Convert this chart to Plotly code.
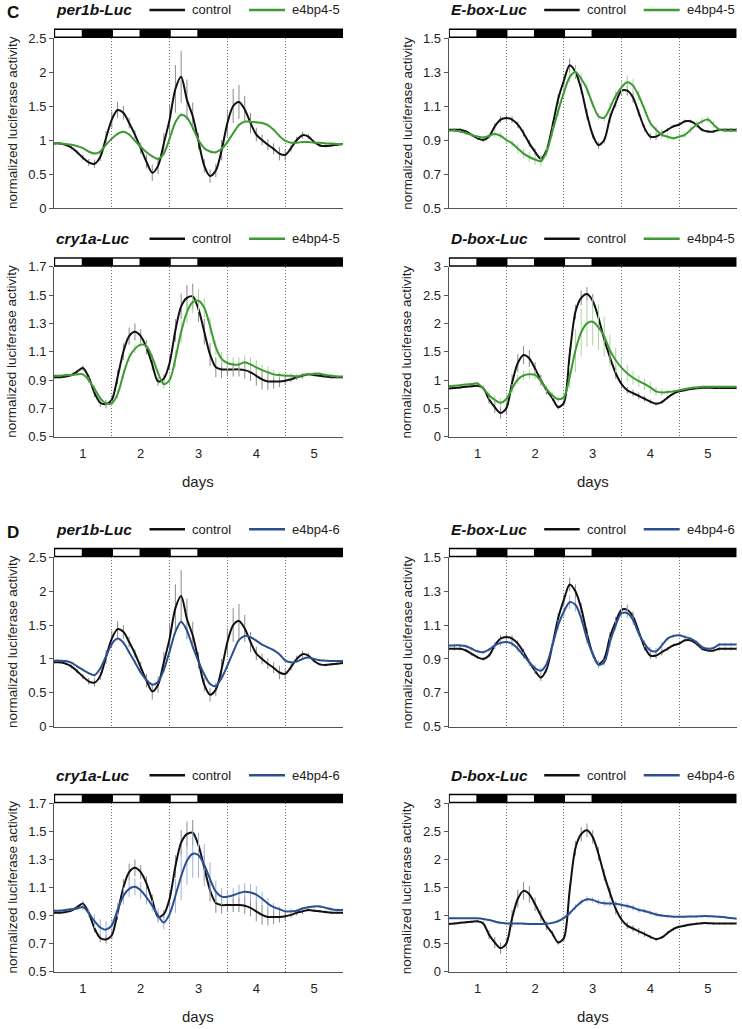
import plotly.graph_objects as go

# ---------------- data ----------------
DAYS = [0.5, 0.6, 0.7, 0.8, 0.9, 1.0, 1.1, 1.2, 1.3, 1.4,
        1.5, 1.6, 1.7, 1.8, 1.9, 2.0, 2.1, 2.2, 2.3, 2.4,
        2.5, 2.6, 2.7, 2.8, 2.9, 3.0, 3.1, 3.2, 3.3, 3.4,
        3.5, 3.6, 3.7, 3.8, 3.9, 4.0, 4.1, 4.2, 4.3, 4.4,
        4.5, 4.6, 4.7, 4.8, 4.9, 5.0, 5.1, 5.2, 5.3, 5.4,
        5.5]
DAY_TICKS = [1, 2, 3, 4, 5]
DAY_LABELS = ["1", "2", "3", "4", "5"]
DAY_BOUNDARIES = [1.5, 2.5, 3.5, 4.5, 5.5]
LIGHT_PHASES = [(0.5, 1.0), (1.5, 2.0), (2.5, 3.0)]
DAY_RANGE = [0.5, 5.5]

# per1b-Luc
PER1B_CONTROL = [0.95, 0.95, 0.93, 0.89, 0.82, 0.74, 0.67, 0.65, 0.75, 1.03,
                 1.30, 1.44, 1.40, 1.25, 1.08, 0.88, 0.68, 0.52, 0.62, 0.95,
                 1.30, 1.75, 1.93, 1.59, 1.35, 0.98, 0.62, 0.47, 0.55, 0.85,
                 1.25, 1.50, 1.56, 1.45, 1.25, 1.08, 1.00, 0.93, 0.87, 0.80,
                 0.78, 0.88, 1.00, 1.07, 1.05, 0.97, 0.92, 0.91, 0.92, 0.93,
                 0.94]
PER1B_CONTROL_ERR = [0.02, 0.02, 0.02, 0.03, 0.03, 0.04, 0.05, 0.06, 0.06, 0.10,
                     0.12, 0.12, 0.10, 0.08, 0.06, 0.08, 0.10, 0.12, 0.12, 0.15,
                     0.22, 0.35, 0.38, 0.30, 0.20, 0.12, 0.10, 0.10, 0.10, 0.15,
                     0.20, 0.25, 0.25, 0.20, 0.15, 0.10, 0.08, 0.08, 0.08, 0.10,
                     0.08, 0.05, 0.05, 0.05, 0.04, 0.02, 0.02, 0.02, 0.02, 0.02,
                     0.02]
PER1B_E4BP4_5 = [0.95, 0.95, 0.94, 0.93, 0.91, 0.88, 0.83, 0.80, 0.83, 0.93,
                 1.02, 1.09, 1.12, 1.08, 0.99, 0.90, 0.82, 0.76, 0.72, 0.80,
                 1.02, 1.26, 1.37, 1.33, 1.18, 1.00, 0.88, 0.83, 0.82, 0.87,
                 0.97, 1.10, 1.22, 1.27, 1.27, 1.26, 1.25, 1.22, 1.15, 1.06,
                 0.99, 0.96, 0.96, 0.97, 0.97, 0.96, 0.96, 0.95, 0.95, 0.94,
                 0.94]
PER1B_E4BP4_5_ERR = [0.01, 0.01, 0.01, 0.01, 0.02, 0.02, 0.02, 0.02, 0.02, 0.02,
                     0.02, 0.02, 0.02, 0.02, 0.02, 0.02, 0.02, 0.02, 0.02, 0.02,
                     0.02, 0.03, 0.03, 0.03, 0.02, 0.02, 0.02, 0.02, 0.02, 0.02,
                     0.02, 0.02, 0.02, 0.02, 0.02, 0.02, 0.02, 0.02, 0.02, 0.02,
                     0.02, 0.01, 0.01, 0.01, 0.01, 0.01, 0.01, 0.01, 0.01, 0.01,
                     0.01]
PER1B_E4BP4_6 = [0.975, 0.975, 0.97, 0.945, 0.89, 0.84, 0.79, 0.76, 0.86, 1.04,
                 1.22, 1.30, 1.24, 1.10, 0.95, 0.80, 0.69, 0.62, 0.66, 0.84,
                 1.11, 1.40, 1.55, 1.42, 1.18, 0.96, 0.77, 0.63, 0.60, 0.72,
                 0.90, 1.10, 1.28, 1.34, 1.32, 1.27, 1.21, 1.17, 1.13, 1.07,
                 0.98, 0.95, 0.96, 1.00, 1.02, 1.00, 0.98, 0.975, 0.97, 0.97,
                 0.97]
PER1B_E4BP4_6_ERR = [0.01, 0.01, 0.01, 0.01, 0.02, 0.02, 0.02, 0.02, 0.02, 0.02,
                     0.03, 0.03, 0.03, 0.02, 0.02, 0.02, 0.02, 0.02, 0.02, 0.02,
                     0.03, 0.04, 0.04, 0.04, 0.03, 0.02, 0.02, 0.02, 0.02, 0.02,
                     0.03, 0.03, 0.03, 0.03, 0.03, 0.02, 0.02, 0.02, 0.02, 0.02,
                     0.02, 0.01, 0.01, 0.01, 0.01, 0.01, 0.01, 0.01, 0.01, 0.01,
                     0.01]

# E-box-Luc
EBOX_CONTROL = [0.96, 0.96, 0.96, 0.95, 0.93, 0.91, 0.90, 0.92, 0.98, 1.02,
                1.03, 1.02, 0.99, 0.94, 0.88, 0.83, 0.79, 0.84, 0.98, 1.14,
                1.25, 1.34, 1.30, 1.20, 1.05, 0.93, 0.87, 0.90, 1.03, 1.12,
                1.19, 1.19, 1.15, 1.06, 0.97, 0.92, 0.92, 0.94, 0.96, 0.98,
                0.99, 1.01, 1.01, 0.99, 0.96, 0.95, 0.95, 0.96, 0.96, 0.96,
                0.96]
EBOX_CONTROL_ERR = [0.01, 0.01, 0.01, 0.01, 0.01, 0.01, 0.01, 0.01, 0.02, 0.02,
                    0.02, 0.02, 0.02, 0.02, 0.02, 0.02, 0.02, 0.02, 0.03, 0.03,
                    0.03, 0.04, 0.04, 0.03, 0.03, 0.02, 0.02, 0.02, 0.03, 0.03,
                    0.03, 0.03, 0.03, 0.02, 0.02, 0.02, 0.02, 0.02, 0.01, 0.01,
                    0.01, 0.01, 0.01, 0.01, 0.01, 0.01, 0.01, 0.01, 0.01, 0.01,
                    0.01]
EBOX_E4BP4_5 = [0.955, 0.955, 0.95, 0.94, 0.93, 0.92, 0.915, 0.925, 0.935, 0.925,
                0.90, 0.88, 0.85, 0.82, 0.80, 0.785, 0.775, 0.83, 0.95, 1.07,
                1.18, 1.27, 1.30, 1.26, 1.20, 1.11, 1.04, 1.03, 1.09, 1.16,
                1.21, 1.24, 1.22, 1.16, 1.08, 1.00, 0.96, 0.93, 0.92, 0.91,
                0.92, 0.93, 0.96, 0.99, 1.01, 1.02, 0.99, 0.96, 0.955, 0.955,
                0.955]
EBOX_E4BP4_5_ERR = [0.01, 0.01, 0.01, 0.01, 0.01, 0.01, 0.01, 0.01, 0.02, 0.02,
                    0.02, 0.02, 0.03, 0.03, 0.03, 0.03, 0.03, 0.03, 0.03, 0.03,
                    0.03, 0.03, 0.03, 0.03, 0.03, 0.02, 0.02, 0.02, 0.03, 0.03,
                    0.04, 0.04, 0.04, 0.03, 0.02, 0.02, 0.02, 0.02, 0.02, 0.01,
                    0.02, 0.02, 0.02, 0.02, 0.02, 0.02, 0.02, 0.01, 0.01, 0.01,
                    0.01]
EBOX_E4BP4_6 = [0.98, 0.98, 0.98, 0.975, 0.96, 0.945, 0.94, 0.955, 0.98, 0.995,
                1.00, 0.99, 0.96, 0.92, 0.88, 0.845, 0.83, 0.87, 0.98, 1.10,
                1.18, 1.235, 1.22, 1.14, 1.02, 0.93, 0.865, 0.88, 1.00, 1.10,
                1.17, 1.17, 1.13, 1.05, 0.99, 0.95, 0.945, 0.98, 1.02, 1.035,
                1.04, 1.03, 1.02, 1.00, 0.97, 0.96, 0.965, 0.985, 0.985, 0.985,
                0.985]
EBOX_E4BP4_6_ERR = [0.01, 0.01, 0.01, 0.01, 0.01, 0.01, 0.01, 0.01, 0.02, 0.02,
                    0.02, 0.02, 0.02, 0.02, 0.02, 0.02, 0.02, 0.02, 0.03, 0.03,
                    0.03, 0.04, 0.04, 0.03, 0.03, 0.02, 0.02, 0.02, 0.03, 0.03,
                    0.03, 0.03, 0.03, 0.02, 0.02, 0.02, 0.02, 0.02, 0.01, 0.01,
                    0.01, 0.01, 0.01, 0.01, 0.01, 0.01, 0.01, 0.01, 0.01, 0.01,
                    0.01]

# cry1a-Luc
CRY1A_CONTROL = [0.92, 0.92, 0.925, 0.935, 0.96, 0.985, 0.92, 0.81, 0.74, 0.73,
                 0.76, 0.92, 1.10, 1.21, 1.24, 1.21, 1.13, 1.01, 0.89, 0.91,
                 1.02, 1.25, 1.42, 1.48, 1.49, 1.40, 1.24, 1.08, 0.99, 0.975,
                 0.975, 0.975, 0.975, 0.97, 0.955, 0.93, 0.905, 0.89, 0.89, 0.89,
                 0.895, 0.905, 0.92, 0.93, 0.94, 0.935, 0.93, 0.925, 0.92, 0.92,
                 0.92]
CRY1A_CONTROL_ERR = [0.01, 0.01, 0.01, 0.01, 0.01, 0.02, 0.02, 0.03, 0.03, 0.03,
                     0.03, 0.05, 0.06, 0.06, 0.06, 0.05, 0.05, 0.04, 0.03, 0.03,
                     0.05, 0.08, 0.09, 0.09, 0.09, 0.09, 0.09, 0.08, 0.07, 0.06,
                     0.05, 0.05, 0.05, 0.06, 0.06, 0.07, 0.07, 0.06, 0.05, 0.04,
                     0.03, 0.02, 0.02, 0.02, 0.01, 0.01, 0.01, 0.01, 0.01, 0.01,
                     0.01]
CRY1A_E4BP4_5 = [0.93, 0.93, 0.935, 0.935, 0.94, 0.94, 0.90, 0.84, 0.77, 0.735,
                 0.735, 0.80, 0.94, 1.06, 1.12, 1.15, 1.14, 1.06, 0.95, 0.87,
                 0.90, 1.05, 1.24, 1.38, 1.45, 1.46, 1.41, 1.28, 1.13, 1.05,
                 1.02, 1.01, 1.01, 1.025, 1.01, 0.99, 0.97, 0.955, 0.94, 0.935,
                 0.93, 0.93, 0.925, 0.935, 0.94, 0.945, 0.945, 0.935, 0.93, 0.925,
                 0.925]
CRY1A_E4BP4_5_ERR = [0.01, 0.01, 0.01, 0.01, 0.01, 0.01, 0.02, 0.02, 0.02, 0.02,
                     0.02, 0.03, 0.03, 0.03, 0.03, 0.02, 0.02, 0.02, 0.02, 0.03,
                     0.04, 0.06, 0.08, 0.08, 0.08, 0.08, 0.07, 0.06, 0.05, 0.05,
                     0.05, 0.05, 0.05, 0.05, 0.05, 0.05, 0.04, 0.04, 0.03, 0.02,
                     0.02, 0.02, 0.01, 0.01, 0.01, 0.01, 0.01, 0.01, 0.01, 0.01,
                     0.01]
CRY1A_E4BP4_6 = [0.935, 0.935, 0.94, 0.945, 0.95, 0.96, 0.92, 0.86, 0.815, 0.80,
                 0.83, 0.94, 1.04, 1.09, 1.105, 1.08, 1.03, 0.97, 0.90, 0.85,
                 0.91, 1.04, 1.18, 1.29, 1.34, 1.33, 1.26, 1.16, 1.07, 1.035,
                 1.035, 1.045, 1.06, 1.07, 1.065, 1.05, 1.02, 0.985, 0.96, 0.945,
                 0.93, 0.93, 0.935, 0.95, 0.96, 0.965, 0.965, 0.955, 0.945, 0.94,
                 0.94]
CRY1A_E4BP4_6_ERR = [0.01, 0.01, 0.01, 0.01, 0.01, 0.02, 0.03, 0.05, 0.06, 0.06,
                     0.05, 0.05, 0.06, 0.06, 0.06, 0.06, 0.05, 0.04, 0.05, 0.05,
                     0.06, 0.12, 0.17, 0.17, 0.17, 0.16, 0.15, 0.12, 0.08, 0.06,
                     0.05, 0.05, 0.06, 0.06, 0.06, 0.06, 0.05, 0.04, 0.03, 0.02,
                     0.02, 0.02, 0.01, 0.01, 0.01, 0.01, 0.01, 0.01, 0.01, 0.01,
                     0.01]

# D-box-Luc
DBOX_CONTROL = [0.85, 0.86, 0.87, 0.88, 0.89, 0.90, 0.86, 0.66, 0.52, 0.42,
                0.50, 0.95, 1.30, 1.44, 1.38, 1.20, 1.00, 0.82, 0.68, 0.52,
                0.60, 1.45, 2.20, 2.45, 2.52, 2.40, 2.10, 1.72, 1.40, 1.12,
                0.93, 0.82, 0.77, 0.72, 0.67, 0.62, 0.58, 0.61, 0.69, 0.76,
                0.80, 0.82, 0.84, 0.855, 0.865, 0.865, 0.86, 0.86, 0.86, 0.86,
                0.86]
DBOX_CONTROL_ERR = [0.02, 0.02, 0.02, 0.02, 0.02, 0.02, 0.04, 0.08, 0.10, 0.10,
                    0.10, 0.15, 0.16, 0.16, 0.15, 0.12, 0.10, 0.08, 0.05, 0.04,
                    0.05, 0.12, 0.13, 0.13, 0.12, 0.12, 0.12, 0.10, 0.10, 0.10,
                    0.08, 0.06, 0.06, 0.06, 0.05, 0.04, 0.03, 0.03, 0.03, 0.03,
                    0.02, 0.02, 0.02, 0.02, 0.02, 0.02, 0.02, 0.02, 0.02, 0.02,
                    0.02]
DBOX_E4BP4_5 = [0.89, 0.90, 0.91, 0.92, 0.93, 0.94, 0.85, 0.73, 0.65, 0.60,
                0.66, 0.85, 1.01, 1.08, 1.10, 1.09, 0.98, 0.84, 0.73, 0.66,
                0.70, 1.05, 1.52, 1.84, 2.00, 2.03, 1.93, 1.77, 1.52, 1.35,
                1.22, 1.12, 1.04, 0.98, 0.93, 0.87, 0.80, 0.78, 0.79, 0.80,
                0.82, 0.84, 0.86, 0.87, 0.88, 0.88, 0.88, 0.88, 0.88, 0.88,
                0.88]
DBOX_E4BP4_5_ERR = [0.02, 0.02, 0.02, 0.02, 0.02, 0.03, 0.05, 0.07, 0.08, 0.08,
                    0.08, 0.08, 0.08, 0.08, 0.08, 0.08, 0.07, 0.05, 0.05, 0.05,
                    0.06, 0.20, 0.38, 0.42, 0.42, 0.42, 0.40, 0.35, 0.28, 0.22,
                    0.18, 0.15, 0.12, 0.10, 0.10, 0.10, 0.08, 0.06, 0.04, 0.03,
                    0.02, 0.02, 0.02, 0.02, 0.02, 0.02, 0.02, 0.02, 0.02, 0.02,
                    0.02]
DBOX_E4BP4_6 = [0.95, 0.95, 0.95, 0.95, 0.95, 0.95, 0.94, 0.92, 0.895, 0.87,
                0.86, 0.86, 0.86, 0.855, 0.85, 0.85, 0.85, 0.855, 0.87, 0.90,
                0.96, 1.04, 1.15, 1.24, 1.29, 1.28, 1.24, 1.22, 1.215, 1.21,
                1.19, 1.17, 1.14, 1.10, 1.08, 1.05, 1.02, 1.00, 0.99, 0.98,
                0.98, 0.98, 0.985, 0.985, 0.99, 0.99, 0.985, 0.98, 0.97, 0.955,
                0.945]
DBOX_E4BP4_6_ERR = [0.01, 0.01, 0.01, 0.01, 0.01, 0.01, 0.01, 0.01, 0.02, 0.02,
                    0.02, 0.02, 0.02, 0.02, 0.02, 0.02, 0.02, 0.02, 0.02, 0.03,
                    0.03, 0.04, 0.05, 0.05, 0.05, 0.05, 0.05, 0.05, 0.05, 0.05,
                    0.05, 0.05, 0.05, 0.05, 0.04, 0.04, 0.04, 0.03, 0.03, 0.02,
                    0.02, 0.02, 0.02, 0.02, 0.02, 0.02, 0.02, 0.02, 0.02, 0.02,
                    0.02]

# y-axis ticks per reporter
PER1B_TICKS = [0, 0.5, 1, 1.5, 2, 2.5]
PER1B_TICK_LABELS = ["0", "0.5", "1", "1.5", "2", "2.5"]
EBOX_TICKS = [0.5, 0.7, 0.9, 1.1, 1.3, 1.5]
EBOX_TICK_LABELS = ["0.5", "0.7", "0.9", "1.1", "1.3", "1.5"]
CRY1A_TICKS = [0.5, 0.7, 0.9, 1.1, 1.3, 1.5, 1.7]
CRY1A_TICK_LABELS = ["0.5", "0.7", "0.9", "1.1", "1.3", "1.5", "1.7"]
DBOX_TICKS = [0, 0.5, 1, 1.5, 2, 2.5, 3]
DBOX_TICK_LABELS = ["0", "0.5", "1", "1.5", "2", "2.5", "3"]

# ---------------- layout / style ----------------
W, H = 742, 1029
FONT = "Liberation Sans, Arial, sans-serif"
BLACK = "#111111"
GREEN = "#3f9a35"
BLUE = "#2d4f90"
ERR_BLACK = "#8a8a8a"
ERR_GREEN = "#a9d79c"
ERR_BLUE = "#9fb2dc"
AXIS = "#555555"

ROW_TOP = [38, 266.7, 557.3, 803.3]
ROW_BOT = [208, 436.7, 726.7, 971.7]
COL_LEFT = [54, 448.7]
COL_RIGHT = [343, 736.7]


def px(x):
    return x / W


def py(y):
    return 1 - y / H


panels = [
    (0, 0, "per1b-Luc", [0, 2.5], PER1B_TICKS, PER1B_TICK_LABELS, PER1B_CONTROL, PER1B_CONTROL_ERR,
     PER1B_E4BP4_5, PER1B_E4BP4_5_ERR, "e4bp4-5", GREEN, ERR_GREEN, False, "C"),
    (0, 1, "E-box-Luc", [0.5, 1.5], EBOX_TICKS, EBOX_TICK_LABELS, EBOX_CONTROL, EBOX_CONTROL_ERR,
     EBOX_E4BP4_5, EBOX_E4BP4_5_ERR, "e4bp4-5", GREEN, ERR_GREEN, False, None),
    (1, 0, "cry1a-Luc", [0.5, 1.7], CRY1A_TICKS, CRY1A_TICK_LABELS, CRY1A_CONTROL, CRY1A_CONTROL_ERR,
     CRY1A_E4BP4_5, CRY1A_E4BP4_5_ERR, "e4bp4-5", GREEN, ERR_GREEN, True, None),
    (1, 1, "D-box-Luc", [0, 3], DBOX_TICKS, DBOX_TICK_LABELS, DBOX_CONTROL, DBOX_CONTROL_ERR,
     DBOX_E4BP4_5, DBOX_E4BP4_5_ERR, "e4bp4-5", GREEN, ERR_GREEN, True, None),
    (2, 0, "per1b-Luc", [0, 2.5], PER1B_TICKS, PER1B_TICK_LABELS, PER1B_CONTROL, PER1B_CONTROL_ERR,
     PER1B_E4BP4_6, PER1B_E4BP4_6_ERR, "e4bp4-6", BLUE, ERR_BLUE, False, "D"),
    (2, 1, "E-box-Luc", [0.5, 1.5], EBOX_TICKS, EBOX_TICK_LABELS, EBOX_CONTROL, EBOX_CONTROL_ERR,
     EBOX_E4BP4_6, EBOX_E4BP4_6_ERR, "e4bp4-6", BLUE, ERR_BLUE, False, None),
    (3, 0, "cry1a-Luc", [0.5, 1.7], CRY1A_TICKS, CRY1A_TICK_LABELS, CRY1A_CONTROL, CRY1A_CONTROL_ERR,
     CRY1A_E4BP4_6, CRY1A_E4BP4_6_ERR, "e4bp4-6", BLUE, ERR_BLUE, True, None),
    (3, 1, "D-box-Luc", [0, 3], DBOX_TICKS, DBOX_TICK_LABELS, DBOX_CONTROL, DBOX_CONTROL_ERR,
     DBOX_E4BP4_6, DBOX_E4BP4_6_ERR, "e4bp4-6", BLUE, ERR_BLUE, True, None),
]

fig = go.Figure()
layout = dict(
    width=W, height=H,
    margin=dict(l=0, r=0, t=0, b=0, autoexpand=False),
    paper_bgcolor="white", plot_bgcolor="white",
    font=dict(family=FONT, size=13, color="#222222"),
    showlegend=False,
)
shapes = []
annotations = []

for i, (row, col, title, yr, ticks, labels, ctl, ctl_err, trt, trt_err, trt_name,
        colour, err_colour, show_x, letter) in enumerate(panels):
    k = i + 1
    xa = "x" if k == 1 else f"x{k}"
    ya = "y" if k == 1 else f"y{k}"
    top, bot = ROW_TOP[row], ROW_BOT[row]
    left, right = COL_LEFT[col], COL_RIGHT[col]

    fig.add_trace(go.Scatter(
        x=DAYS, y=ctl, mode="lines", name="control",
        line=dict(color=BLACK, width=2, shape="spline", smoothing=0.8),
        error_y=dict(type="data", array=ctl_err, visible=True, color=ERR_BLACK, thickness=1, width=0),
        xaxis=xa, yaxis=ya))
    fig.add_trace(go.Scatter(
        x=DAYS, y=trt, mode="lines", name=trt_name,
        line=dict(color=colour, width=2, shape="spline", smoothing=0.8),
        error_y=dict(type="data", array=trt_err, visible=True, color=err_colour, thickness=1, width=0),
        xaxis=xa, yaxis=ya))

    xkey = "xaxis" if k == 1 else f"xaxis{k}"
    ykey = "yaxis" if k == 1 else f"yaxis{k}"
    layout[xkey] = dict(
        domain=[px(left), px(right)], anchor=ya, range=DAY_RANGE,
        tickmode="array", tickvals=DAY_TICKS, ticktext=DAY_LABELS,
        showticklabels=show_x, ticks="outside", ticklen=5, tickcolor="rgba(0,0,0,0)",
        tickfont=dict(size=13, color="#222222"),
        showline=True, linecolor=AXIS, linewidth=1,
        showgrid=False, zeroline=False, automargin=False,
        minor=dict(tickmode="array", tickvals=DAY_BOUNDARIES, showgrid=True,
                   gridcolor="#707070", griddash="1px,2px", gridwidth=1, ticks=""),
    )
    layout[ykey] = dict(
        domain=[py(bot), py(top)], anchor=xa, range=yr,
        tickmode="array", tickvals=ticks, ticktext=labels,
        ticks="outside", ticklen=4, tickcolor=AXIS,
        tickfont=dict(size=13, color="#222222"),
        showline=True, linecolor=AXIS, linewidth=1,
        showgrid=False, zeroline=False, automargin=False,
    )

    # legend (swatch lines + labels)
    ly = py(top - 28)
    for (x0, x1, tx, name, c) in [(95.5, 131, 137.5, "control", BLACK),
                                  (195, 231, 237, trt_name, colour)]:
        shapes.append(dict(type="line", xref="paper", yref="paper",
                           x0=px(left + x0), x1=px(left + x1), y0=ly, y1=ly,
                           line=dict(color=c, width=2.5)))
        annotations.append(dict(text=name, xref="paper", yref="paper",
                                x=px(left + tx), y=ly, xanchor="left", yanchor="middle",
                                showarrow=False, borderpad=0,
                                font=dict(size=13, color="#222222", family=FONT)))

    # light / dark bar
    shapes.append(dict(type="rect", xref=xa, yref="paper", x0=DAY_RANGE[0], x1=DAY_RANGE[1],
                       y0=py(top), y1=py(top - 9.5), fillcolor="#000000",
                       line=dict(width=0), layer="above"))
    for (a, b) in LIGHT_PHASES:
        shapes.append(dict(type="rect", xref=xa, yref="paper", x0=a + 0.02, x1=b - 0.02,
                           y0=py(top - 1.5), y1=py(top - 8), fillcolor="#ffffff",
                           line=dict(width=0), layer="above"))

    # title
    annotations.append(dict(text=f"<b><i>{title}</i></b>", xref="paper", yref="paper",
                            x=px(left + 1), y=py(top - 28), xanchor="left", yanchor="middle",
                            showarrow=False, borderpad=0,
                            font=dict(size=15.5, color="#111111", family=FONT)))
    # y title
    annotations.append(dict(text="normalized luciferase activity", xref="paper", yref="paper",
                            x=px(left - 42), y=py((top + bot) / 2), xanchor="center", yanchor="middle",
                            textangle=-90, showarrow=False,
                            font=dict(size=13.5, color="#222222", family=FONT)))
    if show_x:
        annotations.append(dict(text="days", xref="paper", yref="paper",
                                x=px((left + right) / 2), y=py(bot + 45), xanchor="center", yanchor="middle",
                                showarrow=False, font=dict(size=15, color="#222222", family=FONT)))
    if letter:
        annotations.append(dict(text=f"<b>{letter}</b>", xref="paper", yref="paper",
                                x=px(6), y=py(top - 25), xanchor="left", yanchor="middle",
                                showarrow=False, borderpad=0,
                                font=dict(size=17, color="#111111", family=FONT)))

layout["shapes"] = shapes
layout["annotations"] = annotations
fig.update_layout(**layout)
fig.write_html("out.html",
               config={"displayModeBar": False, "staticPlot": True},
               post_script="document.body.style.margin='0px';document.body.style.overflow='hidden';")
